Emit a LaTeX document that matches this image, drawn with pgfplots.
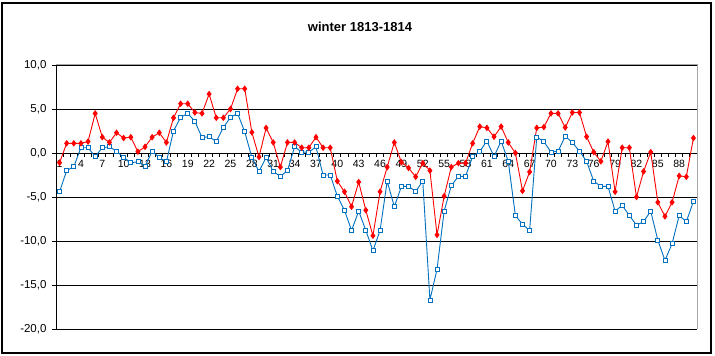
\documentclass[border=0pt]{standalone}
\usepackage{fontspec}
\setmainfont{Liberation Sans}
\usepackage{pgfplots}
\usepackage{pgfplotstable}
\pgfplotsset{compat=1.18}
\definecolor{exred}{RGB}{255,0,0}
\definecolor{exblue}{RGB}{0,112,192}

\pgfplotstableread{
x y
1 -1.1
2 1.1
3 1.1
4 1.1
5 1.3
6 4.5
7 1.8
8 1.2
9 2.3
10 1.7
11 1.8
12 0.15
13 0.7
14 1.8
15 2.3
16 1.2
17 4.0
18 5.6
19 5.6
20 4.6
21 4.5
22 6.7
23 4.0
24 4.0
25 5.0
26 7.3
27 7.3
28 2.35
29 -0.45
30 2.85
31 1.2
32 -1.6
33 1.2
34 1.2
35 0.6
36 0.6
37 1.8
38 0.6
39 0.6
40 -3.2
41 -4.4
42 -6.1
43 -3.3
44 -6.5
45 -9.4
46 -4.4
47 -1.6
48 1.2
49 -1.05
50 -1.7
51 -2.7
52 -1.15
53 -2.0
54 -9.3
55 -4.9
56 -1.6
57 -1.15
58 -1.15
59 1.1
60 3.0
61 2.85
62 1.85
63 3.0
64 1.2
65 0.0
66 -4.3
67 -2.15
68 2.85
69 2.95
70 4.5
71 4.5
72 2.9
73 4.6
74 4.6
75 1.85
76 0.1
77 -0.95
78 1.3
79 -4.4
80 0.6
81 0.6
82 -5.0
83 -2.1
84 0.1
85 -5.6
86 -7.2
87 -5.6
88 -2.6
89 -2.7
90 1.7
}\redtable

\pgfplotstableread{
x y
1 -4.4
2 -2.0
3 -1.55
4 0.6
5 0.6
6 -0.4
7 0.6
8 0.7
9 0.2
10 -0.5
11 -1.1
12 -1.0
13 -1.5
14 0.2
15 -0.5
16 -1.0
17 2.5
18 4.05
19 4.5
20 3.6
21 1.75
22 1.85
23 1.3
24 2.9
25 4.05
26 4.5
27 2.4
28 -0.5
29 -2.1
30 -0.5
31 -2.1
32 -2.65
33 -2.0
34 0.7
35 0.1
36 0.1
37 0.7
38 -2.5
39 -2.5
40 -4.9
41 -6.5
42 -8.8
43 -6.6
44 -8.8
45 -11.1
46 -8.8
47 -3.2
48 -6.1
49 -3.8
50 -3.8
51 -4.35
52 -3.2
53 -16.7
54 -13.2
55 -6.6
56 -3.7
57 -2.65
58 -2.65
59 -0.4
60 0.2
61 1.35
62 -0.4
63 1.35
64 -0.95
65 -7.1
66 -8.1
67 -8.8
68 1.8
69 1.3
70 0.1
71 0.2
72 1.9
73 1.2
74 0.2
75 -0.95
76 -3.2
77 -3.8
78 -3.8
79 -6.6
80 -5.95
81 -7.1
82 -8.2
83 -7.8
84 -6.6
85 -9.9
86 -12.2
87 -10.3
88 -7.1
89 -7.8
90 -5.5
}\bluetable

\begin{document}
\begin{tikzpicture}[x=1pt,y=1pt]
\useasboundingbox (0,0) rectangle (715,356);
\fill[white] (0,0) rectangle (715,356);
\draw[black, line width=1.2pt] (2,3) rectangle (711,353);
\node[font=\fontsize{13}{15}\selectfont\bfseries] at (360,329) {winter 1813-1814};
\begin{axis}[
  at={(56pt,27pt)}, anchor=south west,
  scale only axis, width=641pt, height=264pt,
  xmin=0.5, xmax=90.5, ymin=-20, ymax=10,
  axis x line=middle, axis y line=left,
  axis line style={-, line width=0.8pt, black},
  hide obscured x ticks=false, hide obscured y ticks=false,
  xtick={1,4,...,88},
  minor xtick={0.5,1.5,...,90.5},
  major x tick style={draw=none},
  minor x tick style={black, line width=0.8pt},
  minor tick length=4pt,
  major tick length=4pt,
  tick align=outside,
  ytick={-20,-15,...,10},
  ymajorgrids,
  grid style={black, line width=0.8pt},
  major y tick style={black, line width=0.8pt},
  /pgf/number format/assume math mode=true,
  xticklabel style={font=\fontsize{10.5}{12}\selectfont, /pgf/number format/.cd, fixed, precision=0},
  yticklabel style={font=\fontsize{11.5}{13}\selectfont, xshift=-2pt, /pgf/number format/.cd, fixed, fixed zerofill, precision=1, use comma},
  clip=false,
]
\addplot[exblue, line width=0.9pt, mark=square*, mark size=2pt,
  mark options={fill=white, draw=exblue, line width=0.8pt}] table[x=x,y=y] {\bluetable};
\addplot[exred, line width=0.9pt, mark=diamond*, mark size=2.6pt,
  mark options={fill=exred, draw=exred}] table[x=x,y=y] {\redtable};
\draw[gray!70, line width=1pt] (rel axis cs:0,1) -- (rel axis cs:1,1) -- (rel axis cs:1,0);
\end{axis}
\end{tikzpicture}
\end{document}
